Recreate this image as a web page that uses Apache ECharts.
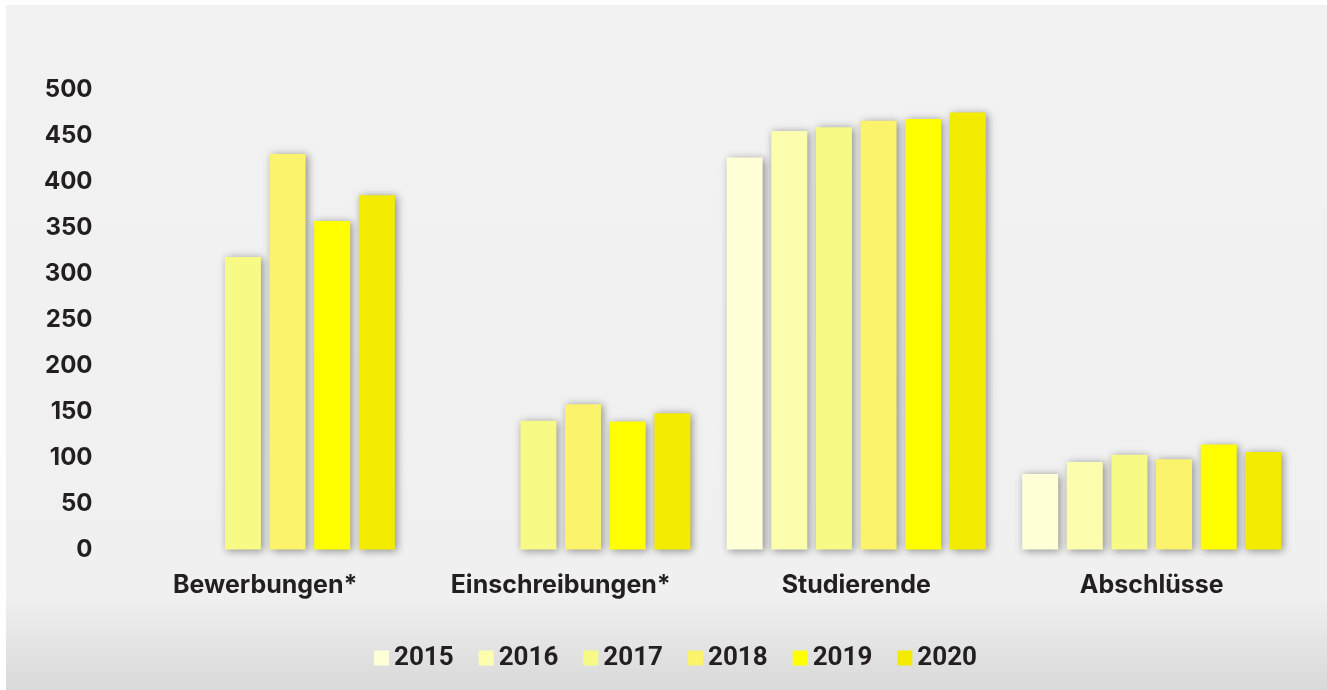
<!DOCTYPE html>
<html lang="de">
<head>
    <meta charset="UTF-8">
    <title>Bewerbungen, Einschreibungen, Studierende, Abschlüsse</title>
    <script src="https://cdn.jsdelivr.net/npm/echarts@6/dist/echarts.min.js"></script>
    <style>
        * { margin: 0; padding: 0; box-sizing: border-box; }
        body { background: #ffffff; width: 1327px; height: 690px; overflow: hidden; }
        #chart { position: absolute; left: 6px; top: 5px; width: 1321px; height: 685px; }
    </style>
</head>
<body>
    <div id="chart"></div>

    <script>
        // Daten
        const categories = ['Bewerbungen*', 'Einschreibungen*', 'Studierende', 'Abschlüsse'];
        const years = ['2015', '2016', '2017', '2018', '2019', '2020'];
        const v2015 = [null, null, 426, 82];
        const v2016 = [null, null, 455, 95];
        const v2017 = [318, 140, 459, 103];
        const v2018 = [430, 158, 466, 98];
        const v2019 = [357, 139, 468, 114];
        const v2020 = [385, 148, 475, 106];
        const yTicks = [0, 50, 100, 150, 200, 250, 300, 350, 400, 450, 500];

        const values = [v2015, v2016, v2017, v2018, v2019, v2020];
        const colors = ['#ffffd8', '#fcfeae', '#f7fb86', '#fbf36c', '#ffff00', '#f3ec00'];

        const chart = echarts.init(document.getElementById('chart'));

        const series = years.map((y, i) => ({
            name: y,
            type: 'bar',
            data: values[i],
            barWidth: 36,
            barGap: '24%',
            itemStyle: {
                color: colors[i],
                shadowBlur: 8,
                shadowColor: 'rgba(0,0,0,0.42)',
                shadowOffsetX: 2,
                shadowOffsetY: 1
            }
        }));

        chart.setOption({
            backgroundColor: {
                type: 'linear', x: 0, y: 0, x2: 0, y2: 1,
                colorStops: [
                    { offset: 0, color: '#f2f2f2' },
                    { offset: 0.86, color: '#f0f0f0' },
                    { offset: 1, color: '#d9d9d9' }
                ]
            },
            animation: false,
            grid: { left: 111.5, right: 27.5, top: 84.5, bottom: 140.5 },
            legend: {
                data: years,
                left: 363,
                top: 635,
                icon: 'rect',
                itemWidth: 15,
                itemHeight: 15,
                itemGap: 25,
                textStyle: {
                    fontFamily: 'Roboto',
                    fontWeight: 'bold',
                    fontSize: 26,
                    color: '#231f20'
                }
            },
            xAxis: {
                type: 'category',
                data: categories,
                axisLine: { show: false },
                axisTick: { show: false },
                axisLabel: {
                    margin: 23,
                    fontFamily: 'Inter',
                    fontWeight: 'bold',
                    fontSize: 25,
                    color: '#231f20'
                }
            },
            yAxis: {
                type: 'value',
                min: yTicks[0],
                max: yTicks[yTicks.length - 1],
                interval: 50,
                splitLine: { show: false },
                axisLine: { show: false },
                axisTick: { show: false },
                axisLabel: {
                    margin: 25,
                    fontFamily: 'Inter',
                    fontWeight: 'bold',
                    fontSize: 24,
                    color: '#231f20'
                }
            },
            series: series
        });
    </script>
</body>
</html>
